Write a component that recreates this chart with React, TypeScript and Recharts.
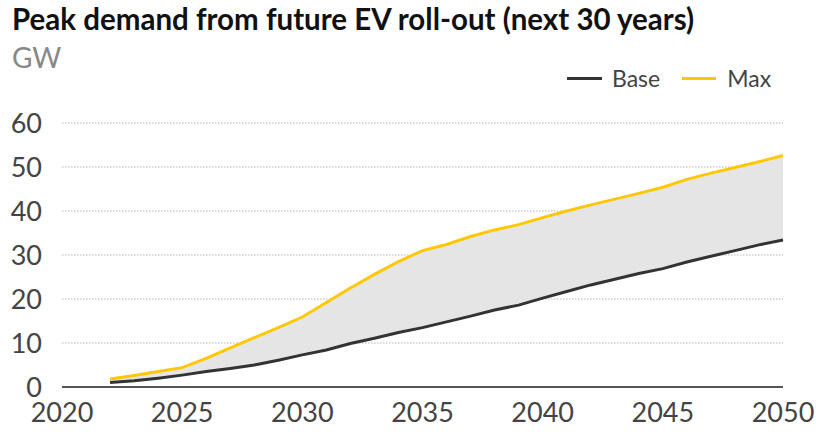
import { ComposedChart, Area, Line, XAxis, YAxis, CartesianGrid, ReferenceLine } from 'recharts';

const years = [2022, 2023, 2024, 2025, 2026, 2027, 2028, 2029, 2030, 2031, 2032, 2033, 2034, 2035, 2036, 2037, 2038, 2039, 2040, 2041, 2042, 2043, 2044, 2045, 2046, 2047, 2048, 2049, 2050];
const baseValues = [1.0, 1.4, 2.0, 2.7, 3.5, 4.2, 5.0, 6.1, 7.3, 8.4, 9.9, 11.1, 12.4, 13.5, 14.8, 16.1, 17.5, 18.6, 20.2, 21.7, 23.2, 24.5, 25.8, 26.9, 28.4, 29.7, 31.0, 32.3, 33.4];
const maxValues = [1.8, 2.6, 3.5, 4.4, 6.5, 8.9, 11.2, 13.5, 15.9, 19.2, 22.5, 25.6, 28.5, 31.0, 32.4, 34.2, 35.7, 36.9, 38.5, 40.0, 41.4, 42.7, 44.0, 45.4, 47.2, 48.6, 49.9, 51.2, 52.6];
const xTicks = [2020, 2025, 2030, 2035, 2040, 2045, 2050];
const yTicks = [0, 10, 20, 30, 40, 50, 60];

const data = years.map((year, i) => ({
  year,
  base: baseValues[i],
  max: maxValues[i],
  band: [baseValues[i], maxValues[i]],
}));

const FONT = 'Lato, sans-serif';
const BASE_COLOR = '#333333';
const MAX_COLOR = '#FFC800';

export default function App() {
  return (
    <div style={{ position: 'absolute', left: 0, top: 0, width: 822, height: 436, background: '#fff', fontFamily: FONT }}>
      <div style={{ position: 'absolute', left: 12, top: 1, fontSize: 29.5, fontWeight: 700, color: '#111', whiteSpace: 'nowrap' }}>
        Peak demand from future EV roll-out (next 30 years)
      </div>
      <div style={{ position: 'absolute', left: 12, top: 40, fontSize: 28, color: '#888' }}>GW</div>
      <div style={{ position: 'absolute', left: 567, top: 64, display: 'flex', alignItems: 'center', fontSize: 23, color: '#444' }}>
        <span style={{ display: 'inline-block', width: 35, height: 3, background: BASE_COLOR, marginRight: 10 }} />
        <span style={{ marginRight: 22 }}>Base</span>
        <span style={{ display: 'inline-block', width: 34, height: 3, background: MAX_COLOR, marginRight: 11 }} />
        <span>Max</span>
      </div>
      <ComposedChart width={822} height={436} data={data} margin={{ top: 123, right: 39, bottom: 0, left: 0 }}>
        <CartesianGrid vertical={false} stroke="#b5b5b5" strokeDasharray="1.5 1.5" />
        <XAxis
          dataKey="year"
          type="number"
          domain={[2020, 2050]}
          ticks={xTicks}
          height={49}
          tickSize={0}
          tickMargin={16}
          axisLine={false}
          tick={{ fill: '#444', fontSize: 27, fontFamily: FONT }}
        />
        <YAxis
          domain={[0, 60]}
          ticks={yTicks}
          width={62}
          tickSize={0}
          tickMargin={20}
          axisLine={false}
          tick={{ fill: '#444', fontSize: 27, fontFamily: FONT }}
        />
        <Area dataKey="band" type="linear" fill="#e5e5e5" fillOpacity={1} stroke="none" isAnimationActive={false} />
        <ReferenceLine y={0} stroke="#555" strokeWidth={2} />
        <Line dataKey="base" type="linear" stroke={BASE_COLOR} strokeWidth={3} dot={false} isAnimationActive={false} />
        <Line dataKey="max" type="linear" stroke={MAX_COLOR} strokeWidth={3} dot={false} isAnimationActive={false} />
      </ComposedChart>
    </div>
  );
}
